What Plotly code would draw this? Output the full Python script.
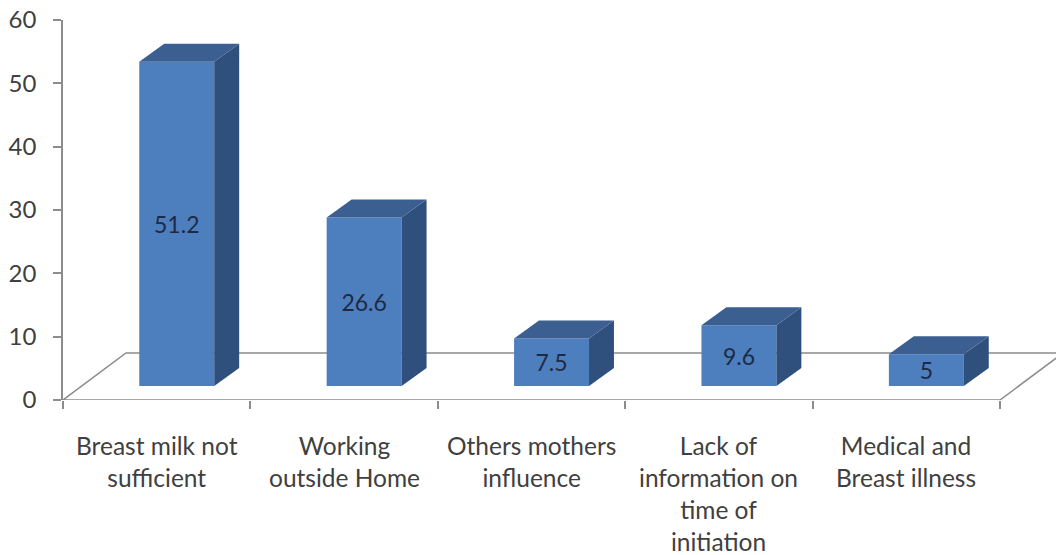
import plotly.graph_objects as go

categories = [
    "Breast milk not<br>sufficient",
    "Working<br>outside Home",
    "Others mothers<br>influence",
    "Lack of<br>information on<br>time of<br>initiation",
    "Medical and<br>Breast illness",
]
values = [51.2, 26.6, 7.5, 9.6, 5]
y_ticks = [0, 10, 20, 30, 40, 50, 60]

# 3D projection constants (in axis units)
FLOOR_DX, FLOOR_DY = 0.336, 7.42      # full depth of the floor
FRONT_DX, FRONT_DY = 0.107, 2.21      # bar front face position in depth
BACK_DX, BACK_DY = 0.240, 5.05        # bar back face position in depth
BAR_W = 0.40

FRONT_C = "#4D7EBE"
TOP_C = "#3B5F91"
SIDE_C = "#2F4F7C"
GRID_C = "#8C8C8C"
FONT = "Lato"

n = len(categories)
xs = list(range(n))

fig = go.Figure()

# front faces as real bars
fig.add_trace(go.Bar(
    x=[x + FRONT_DX for x in xs],
    y=values,
    base=FRONT_DY,
    width=BAR_W,
    marker=dict(color=FRONT_C, line=dict(width=0)),
    text=[f"{v:g}" for v in values],
    textposition="inside",
    insidetextanchor="middle",
    textangle=0,
    constraintext="none",
    textfont=dict(family=FONT, size=23, color="#1E2A44"),
    hoverinfo="skip",
    showlegend=False,
))

# side and top faces
for x, v in zip(xs, values):
    l_f = x + FRONT_DX - BAR_W / 2
    r_f = x + FRONT_DX + BAR_W / 2
    l_b = x + BACK_DX - BAR_W / 2
    r_b = x + BACK_DX + BAR_W / 2
    fig.add_trace(go.Scatter(
        x=[r_f, r_f, r_b, r_b, r_f],
        y=[FRONT_DY, FRONT_DY + v, BACK_DY + v, BACK_DY, FRONT_DY],
        fill="toself", fillcolor=SIDE_C, mode="lines",
        line=dict(width=0, color=SIDE_C), hoverinfo="skip", showlegend=False,
    ))
    fig.add_trace(go.Scatter(
        x=[l_f, r_f, r_b, l_b, l_f],
        y=[FRONT_DY + v, FRONT_DY + v, BACK_DY + v, BACK_DY + v, FRONT_DY + v],
        fill="toself", fillcolor=TOP_C, mode="lines",
        line=dict(width=0, color=TOP_C), hoverinfo="skip", showlegend=False,
    ))

# floor outline (below the bars)
x0, x1 = -0.5, n - 0.5
fig.add_shape(
    type="path", xref="x", yref="y", layer="below",
    path=(f"M {x0},0 L {x1},0 L {x1 + FLOOR_DX},{FLOOR_DY} "
          f"L {x0 + FLOOR_DX},{FLOOR_DY} Z"),
    line=dict(color=GRID_C, width=1.5),
)

# category labels
for x, lab in zip(xs, categories):
    fig.add_annotation(
        x=x, y=0, xref="x", yref="y", text=lab, showarrow=False,
        yanchor="top", xanchor="center", yshift=-29, align="center",
        font=dict(family=FONT, size=24.5, color="#404040"),
    )

fig.update_layout(
    width=1056, height=555,
    margin=dict(l=63, r=0, t=20, b=155),
    paper_bgcolor="white", plot_bgcolor="white",
    showlegend=False,
    xaxis=dict(
        range=[-0.5, -0.5 + 993 / 187.4],
        tickvals=[i - 0.5 for i in range(n + 1)],
        ticktext=[""] * (n + 1),
        ticks="outside", ticklen=8, tickcolor=GRID_C, tickwidth=1.5,
        showline=False, showgrid=False, zeroline=False, automargin=False,
    ),
    yaxis=dict(
        range=[0, 60],
        tickvals=y_ticks,
        ticks="outside", ticklen=8, tickcolor=GRID_C, tickwidth=1.5,
        showline=True, linecolor=GRID_C, linewidth=1.5,
        showgrid=False, zeroline=False, automargin=False,
        ticklabelstandoff=12,
        tickfont=dict(family=FONT, size=24, color="#404040"),
    ),
)

fig.write_html(
    "out.html",
    config={"displayModeBar": False},
    post_script="document.body.style.margin='0';",
)
